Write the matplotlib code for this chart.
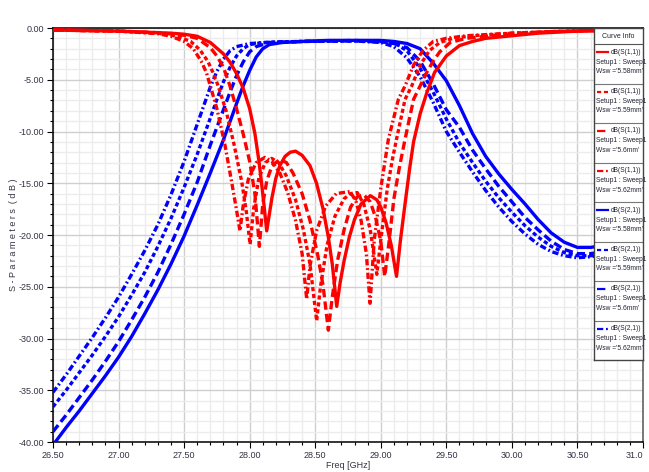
import matplotlib
matplotlib.use("Agg")
import matplotlib.pyplot as plt
from matplotlib.ticker import MultipleLocator, FixedLocator, FixedFormatter
from matplotlib.lines import Line2D

plt.rcParams['font.family'] = ['Liberation Sans Narrow', 'Liberation Sans', 'DejaVu Sans']
plt.rcParams['lines.scale_dashes'] = False

# ---- S11 (return loss) for the four Wsw values ----
f11_w1 = [26.50, 26.80, 27.00, 27.20, 27.40, 27.50, 27.60, 27.70, 27.80, 27.85, 27.90, 27.95,
          28.00, 28.04, 28.07, 28.09, 28.11, 28.13, 28.15, 28.17, 28.20, 28.23, 28.27, 28.31,
          28.35, 28.40, 28.46, 28.51, 28.56, 28.60, 28.63, 28.664, 28.69, 28.72, 28.76, 28.80,
          28.85, 28.92, 28.97, 29.00, 29.04, 29.08, 29.12, 29.15, 29.19, 29.22, 29.25, 29.30,
          29.35, 29.41, 29.50, 29.60, 29.70, 29.80, 30.00, 30.20, 30.50, 31.00]
s11_w1 = [-0.2, -0.25, -0.3, -0.4, -0.5, -0.6, -0.8, -1.4, -2.5, -3.3, -4.4, -5.8,
          -7.8, -10.2, -12.8, -14.9, -17.2, -19.6, -18.0, -16.4, -14.5, -13.3, -12.4, -12.0,
          -11.9, -12.3, -13.3, -15.0, -17.5, -20.2, -22.8, -26.9, -24.6, -22.5, -20.2, -18.5,
          -17.0, -16.2, -16.6, -17.3, -18.8, -21.0, -24.0, -20.5, -16.5, -13.6, -11.0, -8.3,
          -6.3, -4.3, -2.7, -1.7, -1.3, -1.0, -0.75, -0.5, -0.3, -0.2]

f11_w2 = [26.50, 27.00, 27.30, 27.45, 27.55, 27.62, 27.68, 27.72, 27.76, 27.82, 27.88, 27.94,
          27.975, 28.003, 28.03, 28.07, 28.12, 28.168, 28.22, 28.28, 28.35, 28.41, 28.46, 28.511,
          28.54, 28.59, 28.65, 28.72, 28.77, 28.82, 28.87, 28.92, 28.97, 29.00, 29.05, 29.09,
          29.12, 29.185, 29.236, 29.30, 29.37, 29.45, 29.55, 29.70, 30.00, 30.30, 30.60, 31.00]
s11_w2 = [-0.2, -0.3, -0.5, -0.8, -1.3, -2.1, -3.2, -4.3, -5.6, -8.0, -11.2, -14.9,
          -17.8, -20.9, -17.5, -14.5, -13.0, -12.6, -13.0, -14.3, -16.6, -19.5, -22.8, -28.3,
          -25.0, -21.0, -18.2, -16.5, -16.0, -15.9, -17.0, -19.5, -23.8, -20.5, -15.5, -12.6,
          -10.75, -6.9, -5.6, -3.6, -2.2, -1.4, -1.0, -0.75, -0.5, -0.35, -0.25, -0.2]

f11_w3 = [26.50, 27.00, 27.30, 27.50, 27.60, 27.70, 27.75, 27.80, 27.85, 27.90, 27.95, 28.00,
          28.04, 28.074, 28.10, 28.13, 28.17, 28.23, 28.28, 28.33, 28.40, 28.46, 28.52, 28.56,
          28.60, 28.63, 28.67, 28.72, 28.77, 28.82, 28.87, 28.92, 28.96, 29.00, 29.03, 29.06,
          29.10, 29.14, 29.185, 29.25, 29.30, 29.35, 29.40, 29.45, 29.53, 29.65, 29.80, 30.00,
          30.30, 30.60, 31.00]
s11_w3 = [-0.2, -0.3, -0.45, -0.7, -1.0, -1.9, -2.7, -3.8, -5.6, -7.8, -10.2, -12.9,
          -16.0, -21.1, -17.0, -14.8, -13.3, -12.7, -13.0, -14.0, -16.0, -18.6, -22.0, -24.9,
          -29.2, -26.0, -22.5, -19.5, -17.3, -16.3, -16.1, -16.8, -18.3, -20.6, -24.0, -21.0,
          -16.5, -13.6, -10.75, -6.9, -5.6, -4.3, -3.2, -2.3, -1.4, -1.0, -0.8, -0.55,
          -0.35, -0.25, -0.2]

f11_w4 = [26.50, 27.00, 27.30, 27.40, 27.50, 27.57, 27.63, 27.67, 27.70, 27.75, 27.81, 27.863,
          27.90, 27.926, 27.95, 27.99, 28.05, 28.117, 28.17, 28.23, 28.29, 28.35, 28.40, 28.435,
          28.46, 28.51, 28.58, 28.66, 28.765, 28.81, 28.85, 28.89, 28.918, 28.95, 29.00, 29.058,
          29.134, 29.185, 29.25, 29.32, 29.40, 29.50, 29.65, 30.00, 30.30, 30.60, 31.00]
s11_w4 = [-0.2, -0.3, -0.55, -0.8, -1.3, -2.0, -3.2, -4.3, -5.6, -7.8, -11.2, -14.9,
          -17.6, -19.6, -17.2, -14.6, -13.0, -12.5, -12.9, -14.0, -15.9, -18.6, -21.8, -26.2,
          -23.0, -19.6, -17.2, -16.0, -15.8, -16.7, -18.6, -21.8, -26.6, -20.5, -15.5, -10.75,
          -6.9, -5.6, -3.6, -2.2, -1.3, -1.0, -0.75, -0.5, -0.35, -0.25, -0.2]

# ---- S21 (insertion loss) for the four Wsw values ----
f21_w1 = [26.50, 26.60, 26.70, 26.80, 26.90, 27.00, 27.10, 27.20, 27.30, 27.40, 27.50, 27.60,
          27.70, 27.80, 27.90, 27.95, 28.00, 28.05, 28.10, 28.15, 28.25, 28.40, 28.60, 28.80,
          29.00, 29.10, 29.20, 29.30, 29.40, 29.50, 29.60, 29.70, 29.80, 29.90, 30.00, 30.10,
          30.20, 30.30, 30.40, 30.50, 30.60, 30.70, 30.80, 31.00]
s21_w1 = [-40.3, -38.6, -37.0, -35.3, -33.6, -31.8, -29.8, -27.6, -25.3, -22.8, -20.1, -17.1,
          -14.0, -10.8, -7.3, -5.6, -4.1, -2.8, -2.0, -1.6, -1.4, -1.3, -1.2, -1.2,
          -1.2, -1.3, -1.5, -2.0, -3.4, -5.1, -7.5, -10.2, -12.4, -14.1, -15.6, -17.0,
          -18.5, -19.8, -20.7, -21.2, -21.2, -21.0, -20.8, -20.4]

f21_w2 = [26.50, 26.60, 26.70, 26.80, 26.90, 27.00, 27.10, 27.20, 27.30, 27.40, 27.50, 27.60,
          27.70, 27.75, 27.80, 27.85, 27.90, 27.95, 28.00, 28.10, 28.40, 28.80, 29.10, 29.20,
          29.30, 29.40, 29.50, 29.60, 29.70, 29.80, 29.90, 30.00, 30.10, 30.20, 30.30, 30.40,
          30.50, 30.60, 30.70, 30.80, 31.00]
s21_w2 = [-36.6, -35.0, -33.3, -31.6, -29.8, -27.9, -25.8, -23.6, -21.1, -18.4, -15.4, -12.2,
          -8.7, -6.9, -5.2, -3.8, -2.7, -2.0, -1.6, -1.4, -1.3, -1.25, -1.4, -2.2,
          -3.9, -6.2, -8.8, -11.1, -13.0, -14.8, -16.4, -17.8, -19.1, -20.2, -21.1, -21.7,
          -22.0, -22.0, -21.8, -21.5, -21.1]

f21_w3 = [26.50, 26.60, 26.70, 26.80, 26.90, 27.00, 27.10, 27.20, 27.30, 27.40, 27.50, 27.60,
          27.70, 27.80, 27.85, 27.90, 27.95, 28.00, 28.05, 28.15, 28.40, 28.80, 29.00, 29.10,
          29.20, 29.30, 29.40, 29.50, 29.60, 29.70, 29.80, 29.90, 30.00, 30.10, 30.20, 30.30,
          30.40, 30.50, 30.60, 30.70, 30.80, 31.00]
s21_w3 = [-39.0, -37.4, -35.7, -34.0, -32.2, -30.3, -28.2, -26.0, -23.6, -20.9, -18.0, -14.9,
          -11.3, -7.9, -6.2, -4.6, -3.3, -2.3, -1.8, -1.4, -1.3, -1.2, -1.3, -1.5,
          -1.9, -3.2, -5.4, -7.9, -9.6, -11.8, -13.6, -15.3, -16.8, -18.3, -19.5, -20.6,
          -21.4, -21.8, -21.8, -21.6, -21.4, -21.0]

f21_w4 = [26.50, 26.60, 26.70, 26.80, 26.90, 27.00, 27.10, 27.20, 27.30, 27.40, 27.50, 27.60,
          27.65, 27.70, 27.75, 27.80, 27.85, 27.90, 28.00, 28.20, 28.40, 28.80, 29.00, 29.10,
          29.20, 29.30, 29.40, 29.50, 29.60, 29.70, 29.80, 29.90, 30.00, 30.10, 30.20, 30.30,
          30.40, 30.50, 30.60, 30.70, 30.80, 31.00]
s21_w4 = [-35.2, -33.5, -31.7, -29.9, -28.0, -26.0, -23.8, -21.5, -19.0, -16.1, -12.9, -9.3,
          -7.5, -5.7, -4.2, -3.0, -2.2, -1.8, -1.5, -1.35, -1.3, -1.25, -1.4, -1.8,
          -2.9, -4.7, -7.2, -10.0, -12.0, -13.9, -15.7, -17.3, -18.7, -19.9, -20.9, -21.6,
          -22.0, -22.2, -22.1, -21.9, -21.6, -21.2]

x_ticks = [26.5, 27.0, 27.5, 28.0, 28.5, 29.0, 29.5, 30.0, 30.5, 31.0]
x_labels = ["26.50", "27.00", "27.50", "28.00", "28.50", "29.00", "29.50", "30.00", "30.50", "31.0"]
y_ticks = [0, -5, -10, -15, -20, -25, -30, -35, -40]
y_labels = ["0.00", "-5.00", "-10.00", "-15.00", "-20.00", "-25.00", "-30.00", "-35.00", "-40.00"]

wsw_labels = ["5.58mm", "5.59mm", "5.6mm", "5.62mm"]

RED = "#ff0000"
BLUE = "#0000ff"
styles = [
    "-",
    (0, (3.0, 2.0)),
    (0, (6.0, 3.0)),
    (0, (4.5, 2.0, 1.3, 2.0)),
]

W, H = 649, 472
fig = plt.figure(figsize=(W / 100, H / 100), dpi=100)
fig.patch.set_facecolor("white")

L, R, T, B = 53, 643, 28, 442
ax = fig.add_axes([L / W, 1 - B / H, (R - L) / W, (B - T) / H])

s11_sets = [(f11_w1, s11_w1), (f11_w2, s11_w2), (f11_w3, s11_w3), (f11_w4, s11_w4)]
s21_sets = [(f21_w1, s21_w1), (f21_w2, s21_w2), (f21_w3, s21_w3), (f21_w4, s21_w4)]

for (f, s), ls in zip(s21_sets, styles):
    ax.plot(f, s, color=BLUE, lw=2.4, ls=ls, solid_capstyle="butt", dash_capstyle="butt", zorder=3)
for (f, s), ls in zip(s11_sets, styles):
    ax.plot(f, s, color=RED, lw=2.4, ls=ls, solid_capstyle="butt", dash_capstyle="butt", zorder=3)

ax.set_xlim(26.5, 31.0)
ax.set_ylim(-40, 0)
ax.xaxis.set_major_locator(FixedLocator(x_ticks))
ax.xaxis.set_major_formatter(FixedFormatter(x_labels))
ax.yaxis.set_major_locator(FixedLocator(y_ticks))
ax.yaxis.set_major_formatter(FixedFormatter(y_labels))
ax.xaxis.set_minor_locator(MultipleLocator(0.1))
ax.yaxis.set_minor_locator(MultipleLocator(1.0))

ax.grid(which="major", color="#cfcfcf", lw=1.0, zorder=0)
ax.grid(which="minor", color="#ececec", lw=1.0, zorder=0)
ax.set_axisbelow(True)

ax.tick_params(which="major", direction="out", length=4.5, width=0.8, color="black",
               labelsize=6.5, labelcolor="#333344", pad=2)
ax.tick_params(which="minor", direction="out", length=2.2, width=0.8, color="black")

for side in ("left", "bottom", "top"):
    ax.spines[side].set_color("black")
    ax.spines[side].set_linewidth(1.1)
ax.spines["right"].set_color("#555555")
ax.spines["right"].set_linewidth(1.1)

# keep the last x label from running past the figure edge
ax.get_xticklabels()[-1].set_horizontalalignment("right")
ax.get_xticklabels()[-1].set_x(31.0)

ax.set_xlabel("Freq [GHz]", fontsize=6.5, color="#333344", labelpad=1)
ax.set_ylabel("S - P a r a m e t e r s  ( d B )", fontsize=6.5, color="#333344", labelpad=0)

# ---- curve info panel ----
LG_L, LG_R, LG_T, LG_B = 594, 643, 28, 360
lg = fig.add_axes([LG_L / W, 1 - LG_B / H, (LG_R - LG_L) / W, (LG_B - LG_T) / H])
lg.set_xlim(0, LG_R - LG_L)
lg.set_ylim(LG_B - LG_T, 0)
lg.set_xticks([])
lg.set_yticks([])
lg.set_facecolor("white")
for sp in lg.spines.values():
    sp.set_color("#444444")
    sp.set_linewidth(1.0)

hdr = 16
lg.axhline(hdr, color="#555555", lw=0.8)
lg.text((LG_R - LG_L) / 2, hdr / 2 + 0.5, "Curve Info", fontsize=5.0, ha="center", va="center",
        color="#222233")

entries = []
for sname, col in (("dB(S(1,1))", RED), ("dB(S(2,1))", BLUE)):
    for ls, wl in zip(styles, wsw_labels):
        entries.append((sname, col, ls, wl))

pitch = (LG_B - LG_T - hdr) / len(entries)
for i, (sname, col, ls, wl) in enumerate(entries):
    y0 = hdr + i * pitch
    lg.add_line(Line2D([2.5, 13.5], [y0 + 8, y0 + 8], color=col, lw=1.6, ls=ls))
    lg.text(47, y0 + 8, sname, fontsize=4.8, ha="right", va="center", color="#222233")
    lg.text(2, y0 + 18, "Setup1 : Sweep1", fontsize=4.8, ha="left", va="center", color="#222233")
    lg.text(2, y0 + 27.5, "Wsw ='" + wl + "'", fontsize=4.8, ha="left", va="center", color="#222233")
    if i > 0:
        lg.axhline(y0, color="#777777", lw=0.8)

fig.savefig("out.png", dpi=100, facecolor="white")
